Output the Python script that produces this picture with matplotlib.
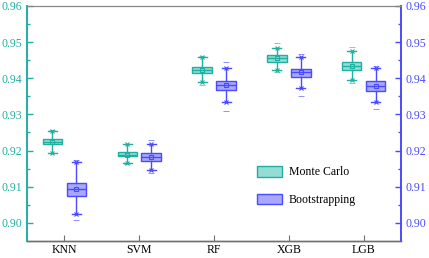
import matplotlib
matplotlib.use("Agg")
import matplotlib.pyplot as plt
from matplotlib.patches import Patch

plt.rcParams['font.family'] = ['Liberation Serif', 'DejaVu Serif']

models = ['KNN', 'SVM', 'RF', 'XGB', 'LGB']

# per model: whisker low, q1, median, q3, whisker high, mean, min, max
mc_whislo = [0.9194, 0.9166, 0.9391, 0.9423, 0.9395]
mc_q1 = [0.9217, 0.9184, 0.9414, 0.9446, 0.9423]
mc_med = [0.9224, 0.9189, 0.9423, 0.9455, 0.9435]
mc_q3 = [0.9232, 0.9195, 0.9432, 0.9463, 0.9446]
mc_whishi = [0.9255, 0.9217, 0.9458, 0.9483, 0.9474]
mc_mean = [0.9225, 0.9189, 0.9423, 0.9455, 0.9435]
mc_min = [0.9192, 0.9164, 0.9382, 0.9418, 0.9388]
mc_max = [0.9258, 0.9219, 0.9461, 0.9497, 0.9486]

bs_whislo = [0.9025, 0.9146, 0.9335, 0.9372, 0.9335]
bs_q1 = [0.9074, 0.9171, 0.9368, 0.9403, 0.9366]
bs_med = [0.9094, 0.9181, 0.9381, 0.9416, 0.9379]
bs_q3 = [0.9111, 0.9192, 0.9393, 0.9426, 0.9393]
bs_whishi = [0.9168, 0.9219, 0.9428, 0.9460, 0.9428]
bs_mean = [0.9093, 0.9181, 0.9381, 0.9416, 0.9379]
bs_min = [0.9009, 0.9138, 0.9310, 0.9351, 0.9314]
bs_max = [0.9174, 0.9230, 0.9444, 0.9466, 0.9434]

teal = '#1fb0a2'
teal_face = '#95dcd4'
blue = '#4a4aff'
blue_face = '#a8a8ff'
gray = '#707070'

fig = plt.figure(figsize=(4.29, 2.58), dpi=100)
ax = fig.add_axes([0.063, 0.066, 0.872, 0.911])

def draw(whislo, q1, med, q3, whishi, mean, vmin, vmax, offset, edge, face):
    stats = []
    for i in range(len(models)):
        stats.append(dict(whislo=whislo[i], q1=q1[i], med=med[i], q3=q3[i],
                          whishi=whishi[i], mean=mean[i], fliers=[]))
    pos = [i + offset for i in range(len(models))]
    ax.bxp(stats, positions=pos, widths=0.26, patch_artist=True, showmeans=True,
           showfliers=False, manage_ticks=False,
           boxprops=dict(facecolor=face, edgecolor=edge, linewidth=1.0),
           medianprops=dict(color=edge, linewidth=1.0),
           whiskerprops=dict(color=edge, linewidth=1.0),
           capprops=dict(color=edge, linewidth=1.0),
           capwidths=0.12,
           meanprops=dict(marker='s', markersize=3, markerfacecolor='none',
                          markeredgecolor=edge, markeredgewidth=0.8))
    ax.plot(pos, whislo, 'x', color=edge, markersize=3, mew=0.8)
    ax.plot(pos, whishi, 'x', color=edge, markersize=3, mew=0.8)
    ax.plot(pos, vmin, '_', color=edge, markersize=4, mew=0.6, alpha=0.7)
    ax.plot(pos, vmax, '_', color=edge, markersize=4, mew=0.6, alpha=0.7)

draw(mc_whislo, mc_q1, mc_med, mc_q3, mc_whishi, mc_mean, mc_min, mc_max, -0.16, teal, teal_face)
draw(bs_whislo, bs_q1, bs_med, bs_q3, bs_whishi, bs_mean, bs_min, bs_max, 0.16, blue, blue_face)

ax.set_xlim(-0.5, 4.5)
ax.set_ylim(0.895, 0.96)
ax.set_xticks(range(len(models)))
ax.set_xticklabels(models, fontsize=8.5)
yt = [0.90, 0.91, 0.92, 0.93, 0.94, 0.95, 0.96]
ax.set_yticks(yt)
ax.set_yticklabels(['%.2f' % v for v in yt], fontsize=8.5, color=teal)
ax.set_yticks([0.905, 0.915, 0.925, 0.935, 0.945, 0.955], minor=True)
ax.tick_params(axis='y', which='both', direction='in', colors=teal, labelcolor=teal, width=1)
ax.tick_params(axis='y', which='major', length=4)
ax.tick_params(axis='y', which='minor', length=2)
ax.tick_params(axis='x', direction='in', length=4, color=gray, pad=2.5)

ax2 = ax.twinx()
ax2.set_ylim(ax.get_ylim())
ax2.set_yticks(yt)
ax2.set_yticklabels(['%.2f' % v for v in yt], fontsize=8.5, color=blue)
ax2.set_yticks([0.905, 0.915, 0.925, 0.935, 0.945, 0.955], minor=True)
ax2.tick_params(axis='y', which='both', direction='in', colors=blue, labelcolor=blue, width=1)
ax2.tick_params(axis='y', which='major', length=4)
ax2.tick_params(axis='y', which='minor', length=2)

for a in (ax, ax2):
    a.spines['left'].set_color(teal)
    a.spines['left'].set_linewidth(1.2)
    a.spines['right'].set_color(blue)
    a.spines['right'].set_linewidth(1.2)
    a.spines['top'].set_color('#888888')
    a.spines['bottom'].set_color(gray)
    a.spines['bottom'].set_linewidth(1.0)

handles = [Patch(facecolor=teal_face, edgecolor=teal, label='Monte Carlo'),
           Patch(facecolor=blue_face, edgecolor=blue, label='Bootstrapping')]
ax.legend(handles=handles, loc='center left', bbox_to_anchor=(0.615, 0.234),
          frameon=False, fontsize=8.5, handlelength=2.1, handleheight=1.0,
          labelspacing=1.3, handletextpad=0.6, borderpad=0, borderaxespad=0)

fig.savefig('out.png', dpi=100)
